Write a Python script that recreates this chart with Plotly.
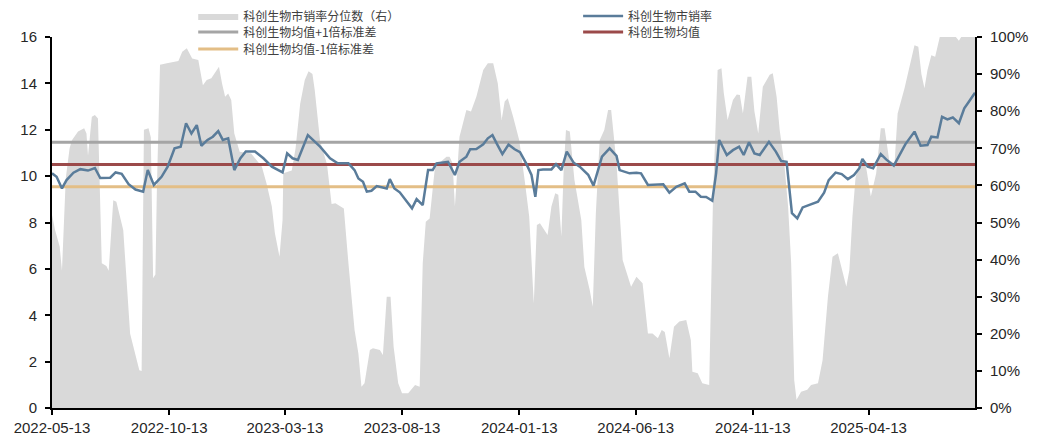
import pandas as pd
import plotly.graph_objects as go

START = pd.Timestamp("2022-05-13")
END_DAY = 1205

# 科创生物市销率 (left axis): day offset from 2022-05-13, value
ps_days = [0, 6, 13, 19, 28, 37, 47, 56, 63, 76, 83, 91, 100, 109, 119, 125, 133, 143, 151, 160,
           168, 175, 182, 189, 195, 203, 210, 217, 223, 230, 238, 246, 253, 265, 276, 287, 301, 307,
           314, 321, 334, 350, 363, 373, 387, 395, 400, 406, 411, 417, 424, 437, 441, 447, 454, 460,
           470, 476, 484, 491, 497, 502, 517, 526, 532, 541, 546, 554, 563, 569, 575, 581, 588, 596,
           604, 611, 619, 626, 631, 635, 641, 652, 658, 665, 672, 681, 689, 700, 707, 718, 728, 737,
           741, 754, 763, 769, 778, 798, 806, 815, 826, 832, 840, 847, 854, 862, 867, 871, 881, 889,
           897, 903, 910, 917, 924, 936, 945, 952, 959, 966, 973, 980, 989, 1000, 1008, 1014, 1023,
           1031, 1039, 1047, 1054, 1058, 1065, 1072, 1082, 1089, 1099, 1106, 1114, 1126, 1134, 1143,
           1148, 1156, 1162, 1169, 1176, 1184, 1191, 1197, 1205]
ps_vals = [10.12, 9.97, 9.47, 9.83, 10.15, 10.30, 10.24, 10.35, 9.92, 9.93, 10.16, 10.10, 9.65, 9.42,
           9.33, 10.26, 9.62, 9.97, 10.41, 11.20, 11.27, 12.28, 11.84, 12.20, 11.31, 11.56, 11.70,
           11.94, 11.56, 11.63, 10.26, 10.77, 11.06, 11.06, 10.77, 10.41, 10.16, 10.98, 10.77, 10.70,
           11.77, 11.27, 10.77, 10.55, 10.55, 10.26, 9.90, 9.76, 9.33, 9.37, 9.57, 9.47, 9.87, 9.47,
           9.30, 9.04, 8.61, 9.01, 8.75, 10.26, 10.26, 10.55, 10.62, 10.05, 10.62, 10.84, 11.16, 11.17,
           11.37, 11.63, 11.77, 11.38, 10.95, 11.36, 11.16, 11.03, 10.55, 10.05, 9.11, 10.26, 10.29,
           10.29, 10.52, 10.26, 11.06, 10.58, 10.41, 10.06, 9.59, 10.84, 11.20, 10.87, 10.26, 10.12,
           10.15, 10.12, 9.62, 9.65, 9.29, 9.54, 9.69, 9.33, 9.33, 9.11, 9.10, 8.94, 10.12, 11.56,
           10.91, 11.12, 11.27, 10.91, 11.46, 10.98, 10.91, 11.48, 11.06, 10.65, 10.62, 8.40, 8.18,
           8.65, 8.75, 8.90, 9.29, 9.83, 10.15, 10.09, 9.87, 10.05, 10.34, 10.74, 10.41, 10.34, 10.95,
           10.72, 10.45, 10.91, 11.37, 11.92, 11.31, 11.34, 11.70, 11.67, 12.56, 12.45, 12.53, 12.28,
           12.92, 13.21, 13.60]

# 科创生物市销率分位数 (right axis, %)
pct_days = [0, 4, 10, 13, 18, 23, 26, 34, 42, 45, 47, 52, 56, 60, 65, 71, 74, 80, 84, 93, 102, 108,
            114, 117, 120, 126, 129, 132, 135, 137, 141, 150, 165, 170, 176, 183, 191, 197, 202, 208,
            218, 222, 226, 230, 234, 238, 245, 260, 274, 280, 287, 291, 297, 301, 302, 313, 318, 324,
            330, 335, 340, 343, 350, 359, 365, 370, 381, 387, 395, 400, 404, 408, 415, 419, 428, 432,
            437, 442, 446, 452, 457, 465, 474, 480, 484, 488, 493, 500, 515, 519, 523, 526, 529, 532,
            541, 547, 554, 563, 569, 576, 582, 587, 591, 595, 602, 610, 617, 623, 629, 633, 637, 647,
            652, 657, 661, 665, 668, 671, 676, 682, 691, 695, 702, 706, 710, 715, 721, 726, 730, 737,
            745, 752, 756, 763, 771, 778, 784, 791, 796, 800, 806, 812, 819, 828, 834, 836, 843, 849,
            858, 863, 869, 874, 877, 882, 889, 894, 898, 902, 908, 913, 917, 922, 928, 937, 941, 946,
            950, 956, 961, 965, 969, 972, 978, 986, 991, 1000, 1006, 1013, 1019, 1026, 1032, 1037,
            1041, 1045, 1049, 1054, 1062, 1069, 1076, 1082, 1087, 1093, 1100, 1104, 1113, 1119, 1126,
            1131, 1135, 1139, 1143, 1148, 1153, 1159, 1180, 1184, 1187, 1205]
pct_vals = [52, 48, 43.5, 37, 62, 70, 72.2, 74.5, 75.4, 74, 68, 78.5, 79, 78, 39, 38.3, 37, 56, 55.6,
            48, 20, 14.7, 10.2, 10, 75, 75.4, 73, 35, 36, 60, 92.5, 92.9, 93.5, 96, 97, 94.2, 93.8,
            87, 88.4, 88.9, 92, 87.5, 83.9, 84.8, 83, 74, 69.1, 68.6, 65, 60.6, 54.3, 47.1, 40.8,
            50.7, 63.3, 64, 70, 82, 88.4, 90.8, 90, 85.7, 72, 65.7, 55, 55.2, 53.8, 39, 21, 14.7,
            5.7, 6.7, 15.6, 16.1, 15.6, 14.3, 30, 30, 16.5, 6.7, 4, 4, 6.2, 5.7, 39, 50.2, 51.1, 65,
            67.7, 67.7, 66, 54.3, 65, 73.1, 80.3, 79.9, 83.9, 91.1, 92.9, 92.9, 87.5, 77.6, 82.6,
            83.5, 78.5, 72.2, 61.5, 51.6, 28.2, 49.3, 49.8, 46.6, 54.3, 57.9, 57.5, 46.2, 64.2, 74.9,
            74.5, 61.5, 50.7, 38, 31.8, 27.3, 52.5, 72.2, 74.9, 80.3, 80.3, 66, 39.9, 35, 32.7, 35.4,
            33.6, 20.1, 20.1, 18.8, 21, 20.5, 13.4, 21.9, 23.3, 23.7, 18.3, 9.8, 9.4, 6.7, 6.2, 57,
            91.1, 91.6, 85, 77.6, 83, 84.5, 84.4, 79.4, 89.3, 89.3, 80, 74, 86.6, 89.8, 90.2, 83.9,
            74.9, 66, 54.3, 39, 7.5, 2.2, 4.4, 4.9, 6.2, 6.7, 12.9, 30, 40.8, 41.7, 37.2, 32.7, 37.2,
            51.6, 62, 66, 66, 57, 63.3, 75.4, 75.4, 66.8, 66, 79.4, 86.2, 92, 97.8, 97.4, 90, 86.2,
            91.1, 95.1, 94.7, 100, 100, 99, 100, 100]

mean_val = 10.50
upper_val = 11.46
lower_val = 9.54

tick_labels = ["2022-05-13", "2022-10-13", "2023-03-13", "2023-08-13", "2024-01-13",
               "2024-06-13", "2024-11-13", "2025-04-13"]

ps_dates = START + pd.to_timedelta(ps_days, unit="D")
pct_dates = START + pd.to_timedelta(pct_days, unit="D")
end_date = START + pd.Timedelta(days=END_DAY)
span = [START, end_date]

fig = go.Figure()

fig.add_trace(go.Scatter(
    x=pct_dates, y=[v / 100 for v in pct_vals], name="科创生物市销率分位数（右）",
    mode="lines", line=dict(width=0, color="#D9D9D9"), fill="tozeroy", fillcolor="#D9D9D9",
    yaxis="y", legend="legend"))
fig.add_trace(go.Scatter(
    x=span, y=[upper_val, upper_val], name="科创生物均值+1倍标准差", mode="lines",
    line=dict(color="#A5A5A5", width=3), yaxis="y2", legend="legend3"))
fig.add_trace(go.Scatter(
    x=span, y=[lower_val, lower_val], name="科创生物均值-1倍标准差", mode="lines",
    line=dict(color="#E3BE86", width=3), yaxis="y2", legend="legend5"))
fig.add_trace(go.Scatter(
    x=span, y=[mean_val, mean_val], name="科创生物均值", mode="lines",
    line=dict(color="#9B4A4A", width=3), yaxis="y2", legend="legend4"))
fig.add_trace(go.Scatter(
    x=ps_dates, y=ps_vals, name="科创生物市销率", mode="lines",
    line=dict(color="#5A7C9A", width=2.5), yaxis="y2", legend="legend2"))

tick_font = dict(family="Liberation Sans, Arial, sans-serif", size=15, color="#262626")
leg_font = dict(family="Noto Sans CJK SC, sans-serif", size=12, color="#404040")

FIG_W, FIG_H = 1036, 432


def leg(xp, ypx):
    return dict(x=xp, y=1 - ypx / FIG_H, xref="paper", yref="container", xanchor="left",
                yanchor="middle", orientation="v", bgcolor="rgba(0,0,0,0)", font=leg_font,
                itemwidth=40, tracegroupgap=0)


col1 = 0.153
col2 = 0.570
fig.update_layout(
    width=FIG_W, height=FIG_H,
    margin=dict(l=44, r=69, t=29, b=32, autoexpand=False),
    plot_bgcolor="white", paper_bgcolor="white",
    showlegend=True,
    xaxis=dict(type="date", range=span, tickvals=pd.to_datetime(tick_labels), ticktext=tick_labels,
               showgrid=False, zeroline=False, showline=True, linecolor="black", linewidth=2,
               ticks="outside", ticklen=5, tickwidth=2, tickcolor="black", tickfont=tick_font),
    yaxis=dict(side="right", range=[0, 1], dtick=0.1, tickformat=".0%", showgrid=False,
               zeroline=False, showline=True, linecolor="black", linewidth=2, ticks="outside",
               ticklen=5, tickwidth=2, tickcolor="black", tickfont=tick_font, ticklabelstandoff=5),
    yaxis2=dict(side="left", overlaying="y", range=[0, 16], dtick=2, showgrid=False,
                zeroline=False, showline=True, linecolor="black", linewidth=2, ticks="outside",
                ticklen=5, tickwidth=2, tickcolor="black", tickfont=tick_font, ticklabelstandoff=5),
    legend=leg(col1, 8),
    legend2=leg(col2, 8),
    legend3=leg(col1, 24),
    legend4=leg(col2, 24),
    legend5=leg(col1, 41),
)

fig.write_html("out.html")
